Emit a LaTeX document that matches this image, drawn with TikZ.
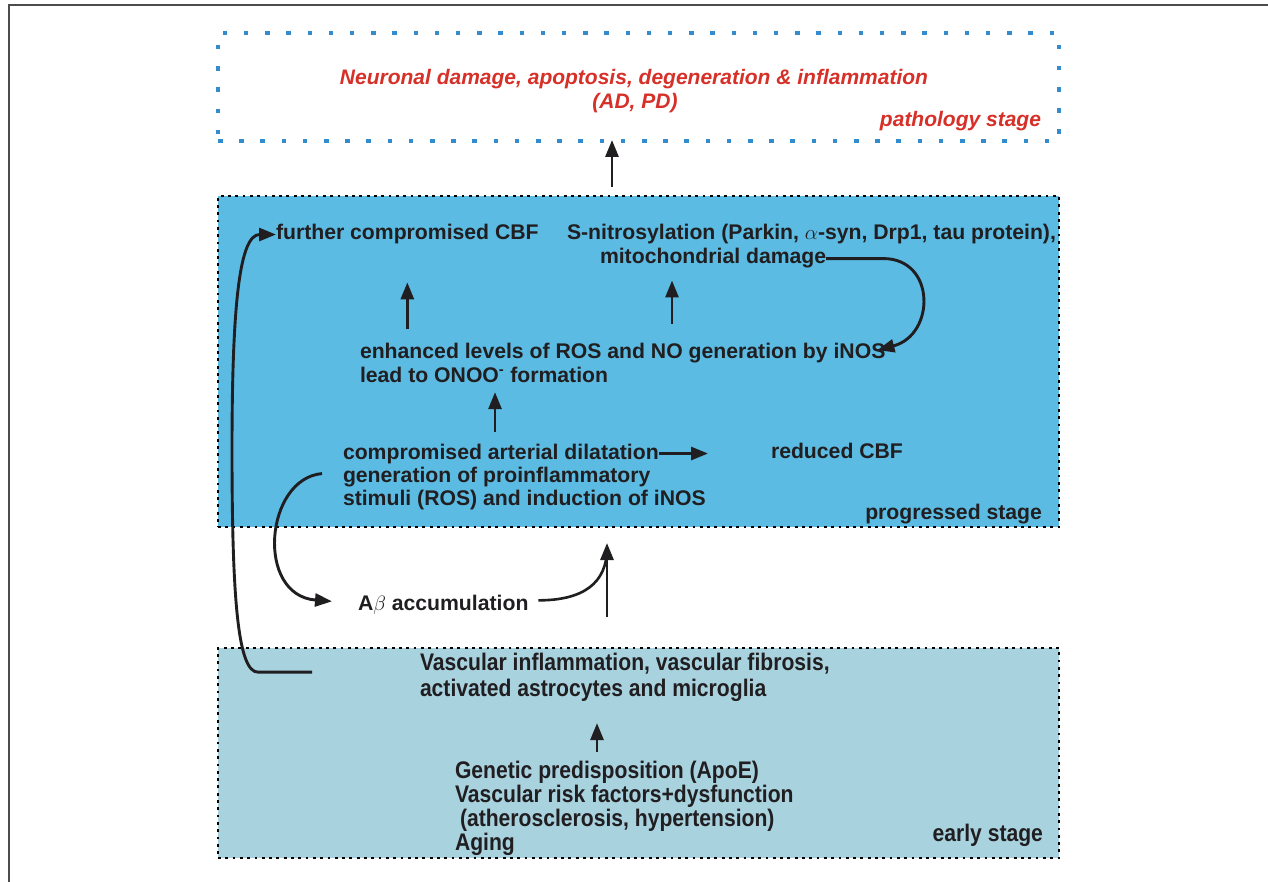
\documentclass[tikz,border=0pt]{standalone}
\usepackage{amsmath}
\usepackage{fontspec}
\setmainfont{Liberation Sans}
\newfontfamily\narrowsans[FakeStretch=0.88]{Liberation Sans}
\usetikzlibrary{arrows.meta, positioning, calc}
\definecolor{progblue}{RGB}{91,187,226}
\definecolor{earlyblue}{RGB}{169,210,223}
\definecolor{dotblue}{RGB}{50,140,205}
\definecolor{pathred}{RGB}{214,48,40}
\definecolor{inkblack}{RGB}{32,30,32}

\begin{document}
\begin{tikzpicture}[
          x=1pt, y=-1pt,
          every node/.style={inner sep=0pt, outer sep=0pt},
          txt/.style={font=\fontsize{21.2}{23.5}\selectfont\bfseries, text=inkblack},
          earlytxt/.style={font=\narrowsans\fontsize{24}{24}\selectfont\bfseries, text=inkblack},
          redtxt/.style={font=\fontsize{21}{24}\selectfont\bfseries\itshape, text=pathred},
          blackdots/.style={draw=black, line width=2.8pt, dash pattern=on 2.8pt off 4.5pt},
          bluedots/.style={draw=dotblue, line width=4.5pt, dash pattern=on 4.5pt off 16.7pt},
          arr/.style={-{Triangle[length=17pt, width=13pt]}, line width=2.9pt, draw=inkblack},
          curv/.style={line width=2.6pt, draw=inkblack},
          >=Stealth
        ]
        \useasboundingbox (0,0) rectangle (1268,882);
        \draw[gray!60!black, line width=1.5pt] (9,882) -- (9,5) -- (1268,5);

        % stage boxes
        \node[bluedots, fill=white, minimum width=841pt, minimum height=108pt] (path) at (638.5,87) {};
        \node[blackdots, fill=progblue, minimum width=841pt, minimum height=331pt] (prog) at (638.5,361.5) {};
        \node[blackdots, fill=earlyblue, minimum width=841pt, minimum height=210pt] (early) at (638.5,753) {};

        % pathology stage
        \node[redtxt, anchor=base] (neuro) at (634,85) {Neuronal damage, apoptosis, degeneration \& inflammation};
        \node[redtxt, anchor=base] (adpd) at ($(neuro.base)+(1,24)$) {(AD, PD)};
        \node[redtxt, anchor=base east] (pathl) at ($(path.south east)+(-18,-14)$) {pathology stage};

        % progressed stage
        \node[txt, anchor=base west] (fcbf) at (276,240) {further compromised CBF};
        \node[txt, anchor=base west] (snit) at (567,240) {S-nitrosylation (Parkin, $\alpha$-syn, Drp1, tau protein),};
        \node[txt, anchor=base west] (mito) at ($(snit.base west)+(33,24)$) {mitochondrial damage};
        \node[txt, anchor=base west] (enh) at (360,358) {enhanced levels of ROS and NO generation by iNOS};
        \node[txt, anchor=base west] (onoo) at ($(enh.base west)+(0,24)$) {lead to ONOO\textsuperscript{-} formation};
        \node[txt, anchor=base west] (cad) at (343,459) {compromised arterial dilatation};
        \node[txt, anchor=base west] (gen1) at ($(cad.base west)+(0,23)$) {generation of proinflammatory};
        \node[txt, anchor=base west] (gen2) at ($(gen1.base west)+(0,23)$) {stimuli (ROS) and induction of iNOS};
        \node[txt, anchor=base west] (rcbf) at (771,458) {reduced CBF};
        \node[txt, anchor=base east] (progl) at ($(prog.south east)+(-17,-8)$) {progressed stage};

        \node[txt, anchor=base west] (abeta) at (358,610) {A$\beta$ accumulation};

        % early stage
        \node[earlytxt, anchor=base west] (vasc1) at (420,670) {Vascular inflammation, vascular fibrosis,};
        \node[earlytxt, anchor=base west] (vasc2) at ($(vasc1.base west)+(0,26)$) {activated astrocytes and microglia};
        \node[earlytxt, anchor=north west, align=left] (genp) at (455,761.5) {Genetic predisposition (ApoE)\\Vascular risk factors+dysfunction\\\hspace{5pt}(atherosclerosis, hypertension)\\Aging};
        \node[earlytxt, anchor=base east] (earlyl) at ($(early.south east)+(-16,-17)$) {early stage};

        % connectors
        \draw[arr] ($(prog.north)+(-26.5,-9)$) -- ($(path.south)+(-26.5,-1)$);
        \draw[arr] ($(enh.north -| fcbf.south)+(0,-14)$) -- ($(fcbf.south)+(0,38)$);
        \draw[arr] ($(enh.north -| mito.south west)+(72,-19)$) -- ($(mito.south west)+(72,12)$);
        \draw[arr] ($(cad.north -| onoo.south west)+(135,-12)$) -- ($(onoo.south west)+(135,10)$);
        \draw[arr] (cad.east) -- ($(cad.east -| rcbf.west)+(-63,0)$);
        \draw[arr] (mito.east) -- ++(57,0) .. controls +(53,0) and +(58,-15) .. ($(enh.east)+(-8,-2.5)$);
        \draw[arr] ($(gen1.west)+(-21,-3)$) .. controls +(-57,5) and +(-77,-6) .. ($(abeta.west)+(-26,-3)$);
        \draw[curv] ($(abeta.east)+(10,-4)$) .. controls +(45,0) and +(0,35) .. ($(early.north)+(-31.5,-100)$);
        \draw[arr] ($(early.north)+(-31.5,-31)$) -- ($(prog.south)+(-31.5,16)$);
        \draw[arr] ($(genp.north west)+(142,-10)$) -- ($(vasc2.south west)+(177,22)$);
        \draw[arr] ($(vasc1.west)+(-108,9)$) -- ++(-54,0) .. controls +(-20,0) and +(0,150) .. ++(-26,-222) .. controls +(0,-150) and +(-36,0) .. (fcbf.west);
\end{tikzpicture}
\end{document}
